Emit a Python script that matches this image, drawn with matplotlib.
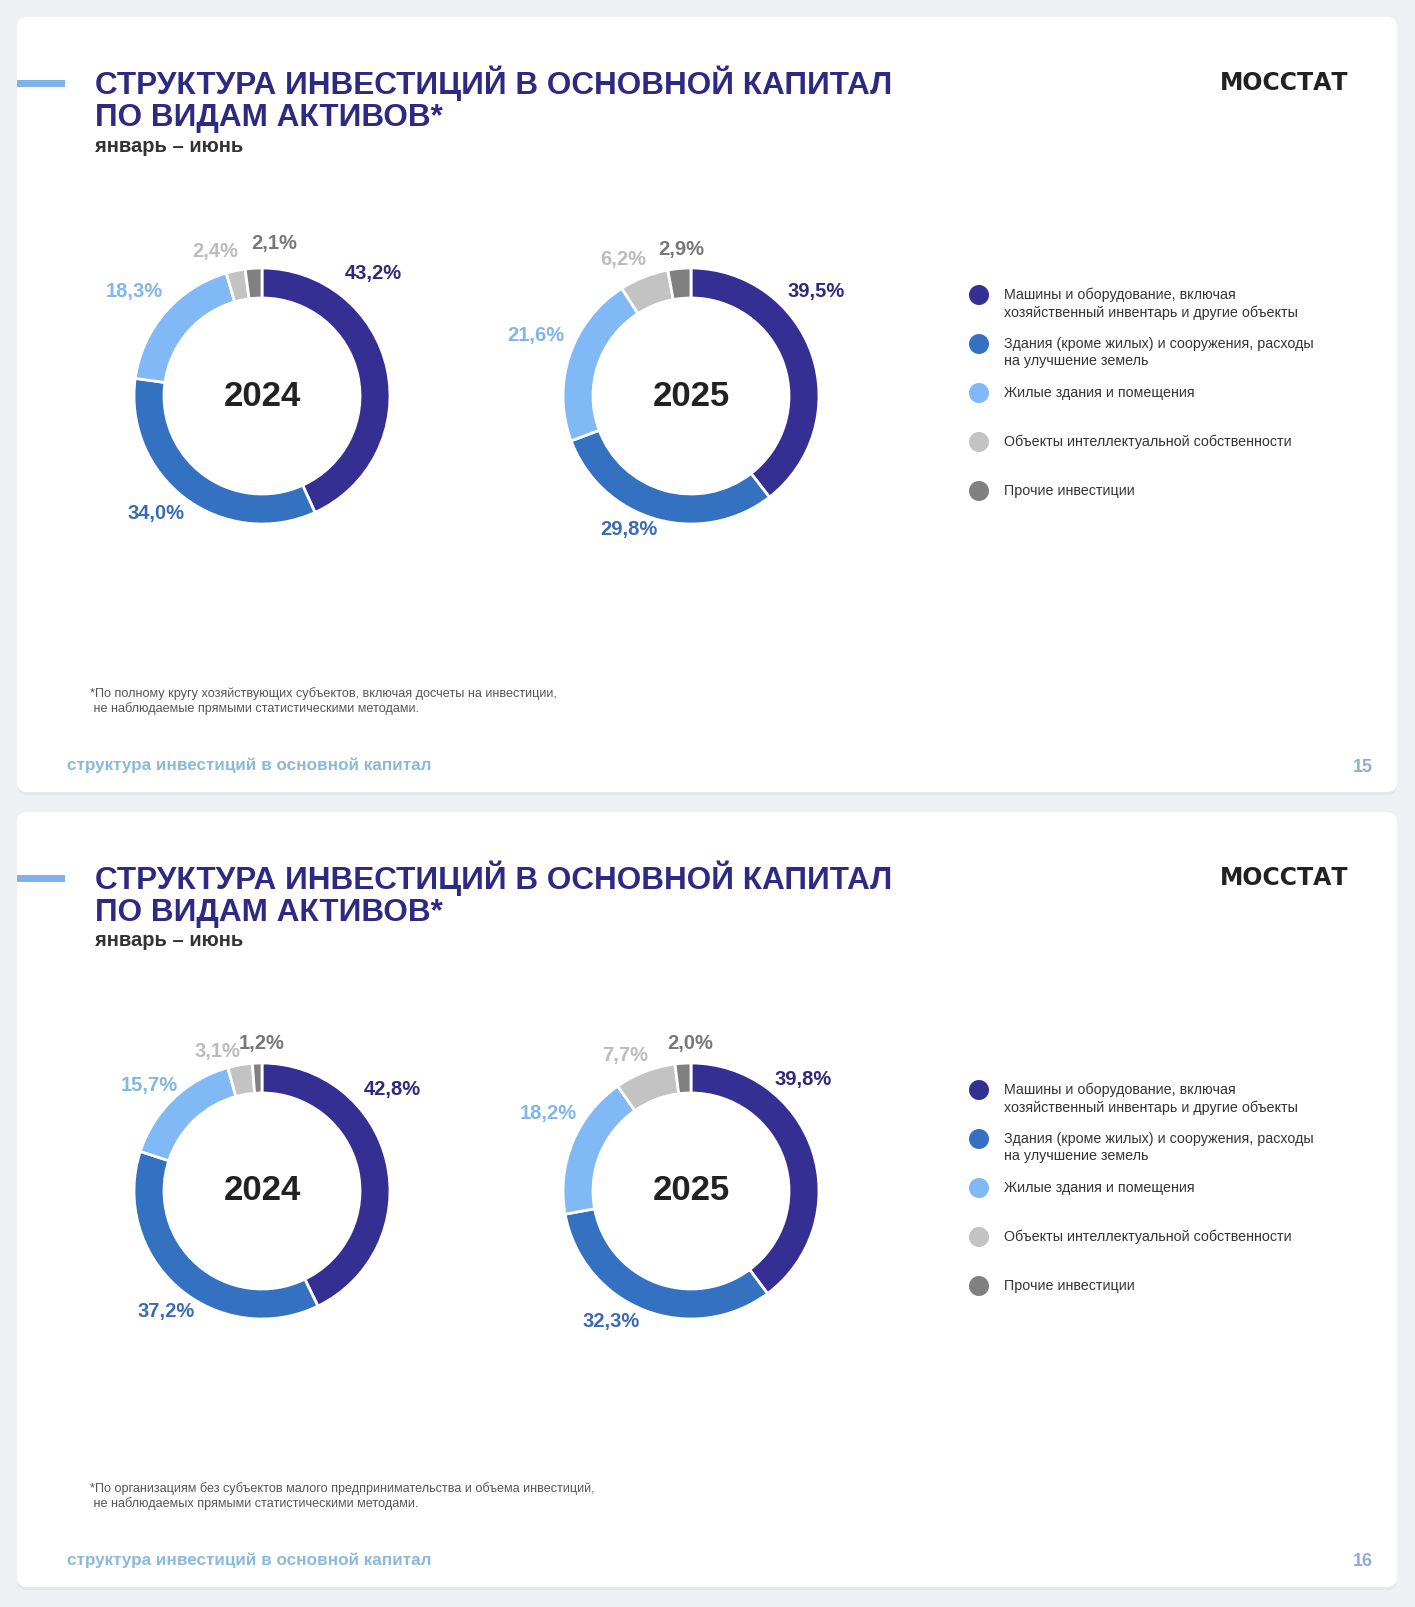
import matplotlib
matplotlib.use('Agg')
import matplotlib.pyplot as plt
from matplotlib.patches import FancyBboxPatch, Circle, Rectangle

plt.rcParams['font.family'] = ['Liberation Sans', 'DejaVu Sans']

W, H = 1415, 1607

# данные
categories = ['Машины и оборудование, включая\nхозяйственный инвентарь и другие объекты',
              'Здания (кроме жилых) и сооружения, расходы\nна улучшение земель',
              'Жилые здания и помещения',
              'Объекты интеллектуальной собственности',
              'Прочие инвестиции']
years = ['2024', '2025']
share_p15_2024 = [43.2, 34.0, 18.3, 2.4, 2.1]
share_p15_2025 = [39.5, 29.8, 21.6, 6.2, 2.9]
share_p16_2024 = [42.8, 37.2, 15.7, 3.1, 1.2]
share_p16_2025 = [39.8, 32.3, 18.2, 7.7, 2.0]
pages = ['15', '16']
footnotes = ['*По полному кругу хозяйствующих субъектов, включая досчеты на инвестиции,\n'
             ' не наблюдаемые прямыми статистическими методами.',
             '*По организациям без субъектов малого предпринимательства и объема инвестиций,\n'
             ' не наблюдаемых прямыми статистическими методами.']

title_lines = ['СТРУКТУРА ИНВЕСТИЦИЙ В ОСНОВНОЙ КАПИТАЛ', 'ПО ВИДАМ АКТИВОВ*']
subtitle = 'январь – июнь'
footer = 'структура инвестиций в основной капитал'

colors = ['#352f93', '#3571c1', '#80b9f5', '#c3c3c3', '#808080']
label_colors = ['#2f2a80', '#3b6cb2', '#80b6ec', '#bcbcbc', '#777777']

# положение подписей относительно центра кольца, px
label_pos = {
    (0, 0): [(111, -123), (-106, 117), (-128, -104), (-47, -145), (12, -153)],
    (0, 1): [(125, -105), (-62, 134), (-155, -60), (-68, -137), (-10, -147)],
    (1, 0): [(130, -102), (-96, 120), (-113, -106), (-45, -140), (0, -148)],
    (1, 1): [(112, -112), (-80, 131), (-143, -77), (-66, -136), (-1, -148)],
}

fig = plt.figure(figsize=(W / 100, H / 100), dpi=100)
fig.patch.set_facecolor('#eef0f3')
bg = fig.add_axes([0, 0, 1, 1])
bg.set_xlim(0, W)
bg.set_ylim(H, 0)
bg.axis('off')

card_h = 775
step = 795
centers_x = [262, 691]
R, ring = 128, 30

data = [[share_p15_2024, share_p15_2025], [share_p16_2024, share_p16_2025]]

for p in range(2):
    y0 = 17 + p * step
    bg.add_patch(FancyBboxPatch((17, y0 + 3), 1380, card_h, boxstyle='round,pad=0,rounding_size=10',
                                facecolor='#e4e7eb', edgecolor='none', zorder=1))
    bg.add_patch(FancyBboxPatch((17, y0), 1380, card_h, boxstyle='round,pad=0,rounding_size=10',
                                facecolor='white', edgecolor='none', zorder=2))
    bg.add_patch(Rectangle((17, y0 + 63), 48, 7, facecolor='#7fb2ea', edgecolor='none', zorder=3))
    for j, line in enumerate(title_lines):
        bg.text(95, y0 + 66 + j * 35, line, fontsize=22.7, fontweight='bold', color='#2e2a84',
                va='center', zorder=3)
    bg.text(95, y0 + 129, subtitle, fontsize=14.5, fontweight='bold', color='#333333',
            va='center', zorder=3)
    bg.text(1348, y0 + 66, 'МОССТАТ', fontsize=17, fontweight='bold', color='#222222',
            family='DejaVu Sans', ha='right', va='center', zorder=3)
    bg.text(90, y0 + 684, footnotes[p], fontsize=9.1, color='#555555', va='center',
            linespacing=1.25, zorder=3)
    bg.text(67, y0 + 748, footer, fontsize=12.3, fontweight='bold', color='#8ab9de',
            va='center', zorder=3)
    bg.text(1373, y0 + 750, pages[p], fontsize=13, fontweight='bold', color='#8aaed8',
            ha='right', va='center', zorder=3)

    # легенда
    for i, cat in enumerate(categories):
        my = y0 + 278 + i * 49
        bg.add_patch(Circle((979, my), 10, facecolor=colors[i], edgecolor='none', zorder=3))
        bg.text(1004, my - 7, cat, fontsize=10.3, color='#333333', va='top',
                linespacing=1.25, zorder=3)

    # кольца
    cy = y0 + 379
    for k in range(2):
        cx = centers_x[k]
        vals = data[p][k]
        ax = fig.add_axes([(cx - R) / W, 1 - (cy + R) / H, 2 * R / W, 2 * R / H])
        ax.pie(vals, colors=colors, startangle=90, counterclock=False, radius=1,
               wedgeprops=dict(width=ring / R, edgecolor='white', linewidth=2))
        ax.set_xlim(-1, 1)
        ax.set_ylim(-1, 1)
        ax.axis('off')
        ax.text(0, 0, years[k], fontsize=25, fontweight='bold', color='#222222',
                ha='center', va='center')
        for i, v in enumerate(vals):
            dx, dy = label_pos[(p, k)][i]
            bg.text(cx + dx, cy + dy, f'{v:.1f}'.replace('.', ',') + '%', fontsize=14.5,
                    fontweight='bold', color=label_colors[i], ha='center', va='center', zorder=3)

fig.savefig('out.png', dpi=100, facecolor=fig.get_facecolor())
